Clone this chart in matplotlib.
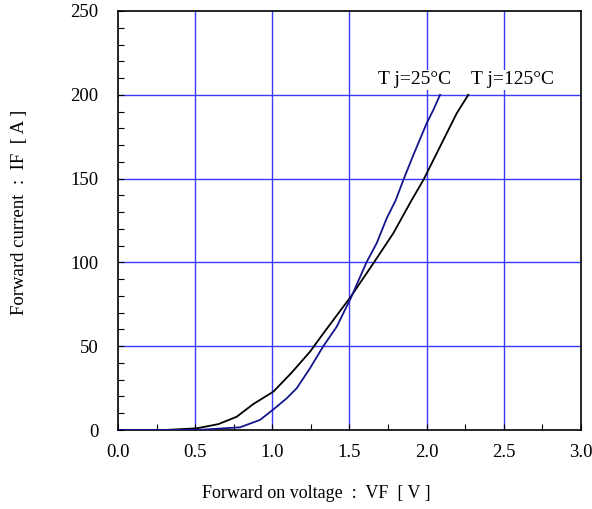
import numpy as np
import matplotlib.pyplot as plt
from matplotlib.ticker import MultipleLocator

# Tj = 25 C curve
vf_25 = [0.0, 0.30, 0.51, 0.79, 0.92, 1.007, 1.093, 1.158, 1.244, 1.331, 1.417,
         1.508, 1.612, 1.676, 1.741, 1.80, 1.849, 1.914, 2.0, 2.043, 2.087]
if_25 = [0.0, 0.0, 0.0, 1.6, 6.0, 12.3, 18.9, 24.9, 36.8, 50.1, 61.6,
         78.6, 100.4, 111.4, 126.3, 137.2, 149.2, 164.1, 183.0, 190.9, 200.0]

# Tj = 125 C curve
vf_125 = [0.0, 0.30, 0.51, 0.65, 0.769, 0.877, 1.007, 1.125, 1.244, 1.331, 1.508,
          1.655, 1.784, 1.903, 1.979, 2.108, 2.195, 2.27]
if_125 = [0.0, 0.0, 1.0, 3.5, 7.9, 15.5, 22.9, 34.2, 46.7, 57.7, 79.5,
          99.5, 117.4, 137.2, 149.2, 173.0, 189.0, 200.0]

labels = ["T j=25°C", "T j=125°C"]
label_pos = [(1.92, 209), (2.556, 209)]

plt.rcParams['font.family'] = ['Liberation Serif', 'DejaVu Serif']
plt.rcParams['font.size'] = 13.5

fig = plt.figure(figsize=(5.92, 5.09), dpi=100)
ax = fig.add_axes([0.1993, 0.1552, 0.7821, 0.8232])

grid_blue = '#3a3aff'
for x in [0.5, 1.0, 1.5, 2.0, 2.5]:
    ax.axvline(x, color=grid_blue, lw=1.0, zorder=1)
for y in [50, 100, 150, 200]:
    ax.axhline(y, color=grid_blue, lw=1.0, zorder=1)

ax.plot(vf_125, if_125, color='black', lw=1.3, zorder=3)
ax.plot(vf_25, if_25, color='#14148c', lw=1.3, zorder=3)

for txt, (x, y) in zip(labels, label_pos):
    ax.text(x, y, txt, ha='center', va='center', fontsize=14, zorder=4,
            bbox=dict(facecolor='white', edgecolor='none', pad=1.0))

ax.set_xlim(0, 3.0)
ax.set_ylim(0, 250)
ax.xaxis.set_minor_locator(MultipleLocator(0.25))
ax.yaxis.set_major_locator(MultipleLocator(50))
ax.yaxis.set_minor_locator(MultipleLocator(10))
ax.set_xticks(np.arange(0, 3.01, 0.5))
ax.set_xticklabels([f"{v:.1f}" for v in np.arange(0, 3.01, 0.5)])
ax.tick_params(axis='both', which='both', direction='in', length=4, width=0.8)
ax.tick_params(axis='y', which='major', pad=14)
ax.tick_params(axis='x', which='major', pad=10)
for s in ax.spines.values():
    s.set_linewidth(1.2)

ax.set_xlabel("Forward on voltage  :  VF  [ V ]", fontsize=13)
ax.xaxis.set_label_coords(0.428, -0.132)
ax.set_ylabel("Forward current  :  IF  [ A ]", fontsize=13.5)
ax.yaxis.set_label_coords(-0.195, 0.52)

fig.savefig('out.png', dpi=100)
